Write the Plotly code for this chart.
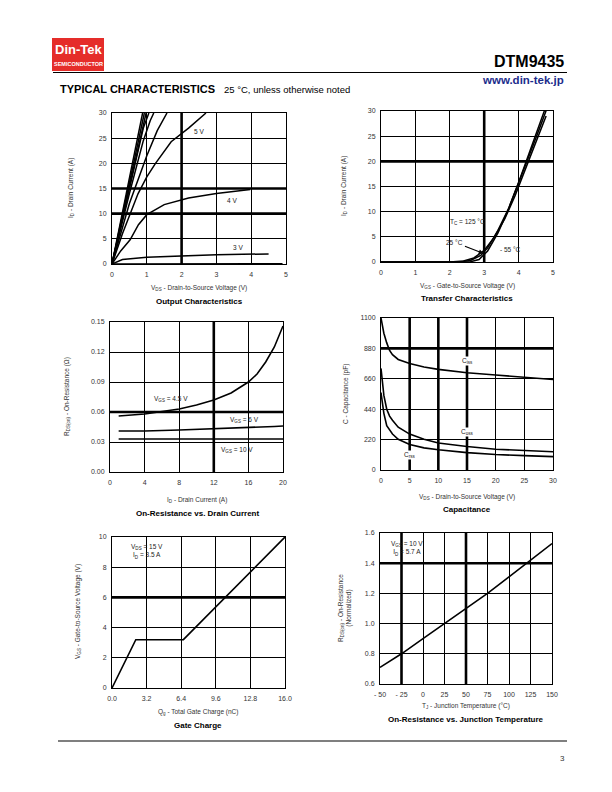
import plotly.graph_objects as go

# ---- Output Characteristics ----
vds_10v = [0, 0.88]
id_10v = [0, 30]
vds_9v = [0, 0.93]
id_9v = [0, 30]
vds_8v = [0, 0.98]
id_8v = [0, 30]
vds_7v = [0, 0.5, 0.9, 1.06]
id_7v = [0, 15, 27, 30]
vds_6v = [0, 0.5, 0.9, 1.1, 1.2]
id_6v = [0, 14, 24.5, 28.5, 30]
vds_55v = [0, 0.5, 1.0, 1.3, 1.58]
id_55v = [0, 12, 21.5, 26.5, 30]
vds_5v = [0, 0.3, 0.75, 1.0, 1.25, 1.7, 2.2, 2.7]
id_5v = [0, 6, 14, 17.3, 20, 24.3, 27, 30]
vds_4v = [0, 0.25, 0.52, 0.76, 1.0, 1.5, 2.2, 3.0, 3.97]
id_4v = [0, 2.6, 4.8, 7.8, 9.8, 11.8, 13.1, 14, 14.8]
vds_3v = [0, 0.3, 1.0, 2.0, 3.0, 4.5]
id_3v = [0, 0.9, 1.35, 1.65, 1.85, 2.0]
vds_2v = [0, 4.9]
id_2v = [0, 0.05]

# ---- Transfer Characteristics ----
vgs_125 = [0, 2.0, 2.4, 2.7, 3.0, 3.3, 3.6, 3.9, 4.2, 4.5, 4.8]
id_125 = [0, 0.02, 0.2, 0.8, 2.3, 5.0, 8.6, 13.2, 18.5, 23.8, 29.0]
vgs_25 = [0, 2.3, 2.6, 2.9, 3.1, 3.4, 3.7, 4.0, 4.3, 4.6, 4.85]
id_25 = [0, 0.05, 0.3, 1.3, 2.8, 6.3, 10.5, 15.6, 21.0, 26.4, 31.0]
vgs_m55 = [0, 2.6, 2.85, 3.1, 3.4, 3.7, 4.0, 4.3, 4.6, 4.8]
id_m55 = [0, 0.05, 0.5, 2.2, 5.8, 10.4, 15.8, 21.6, 27.3, 31.0]

# ---- On-Resistance vs Drain Current ----
id_r = [1, 4, 8, 10, 12, 14, 16, 17, 18, 19, 20]
rds_45v = [0.056, 0.058, 0.063, 0.067, 0.072, 0.079, 0.090, 0.098, 0.110, 0.125, 0.146]
rds_6v = [0.041, 0.041, 0.042, 0.0425, 0.043, 0.0435, 0.044, 0.0445, 0.045, 0.0455, 0.046]
rds_10v = [0.033, 0.033, 0.033, 0.033, 0.033, 0.033, 0.033, 0.033, 0.033, 0.033, 0.033]

# ---- Capacitance ----
vds_c = [0, 0.5, 1, 1.5, 2, 3, 5, 7.5, 10, 15, 20, 25, 30]
ciss = [1100, 990, 920, 865, 835, 800, 770, 745, 728, 704, 687, 670, 655]
coss = [735, 540, 440, 390, 360, 310, 260, 222, 196, 170, 150, 140, 132]
crss = [560, 410, 320, 285, 260, 222, 185, 160, 146, 126, 112, 104, 97]

# ---- Gate Charge ----
qg = [0, 2.2, 6.6, 16.0]
vgs_q = [0, 3.2, 3.2, 10.0]

# ---- On-Resistance vs Junction Temperature ----
tj = [-50, -25, 0, 25, 50, 75, 100, 125, 150]
rds_norm = [0.71, 0.80, 0.90, 1.00, 1.10, 1.20, 1.31, 1.42, 1.53]

W, H = 612, 792
OFF = 8  # page body margin in the browser


def px(x):
    return (x - OFF) / W


def py(y):
    return 1 - (y - OFF) / H


fig = go.Figure()


def add(x, y, n, w=1.6):
    fig.add_trace(go.Scatter(x=x, y=y, mode="lines", line=dict(color="black", width=w),
                             xaxis="x" + n, yaxis="y" + n, showlegend=False, hoverinfo="skip"))


for xs, ys in [(vds_10v, id_10v), (vds_9v, id_9v), (vds_8v, id_8v), (vds_7v, id_7v),
               (vds_6v, id_6v), (vds_55v, id_55v), (vds_5v, id_5v), (vds_4v, id_4v),
               (vds_3v, id_3v), (vds_2v, id_2v)]:
    add(xs, ys, "", 1.5)
for xs, ys in [(vgs_125, id_125), (vgs_25, id_25), (vgs_m55, id_m55)]:
    add(xs, ys, "2", 1.5)
for ys in [rds_45v, rds_6v, rds_10v]:
    add(id_r, ys, "3")
for ys in [ciss, coss, crss]:
    add(vds_c, ys, "4")
add(qg, vgs_q, "5")
add(tj, rds_norm, "6")

tickfont = dict(family="Liberation Sans, Arial", size=7, color="#333")


def axes(n, xdom, ydom, xr, yr, xt, yt, xtt=None, ytt=None):
    key = "" if n == 1 else str(n)
    xa = dict(domain=[px(xdom[0]), px(xdom[1])], range=xr, tickvals=xt, ticktext=xtt,
              anchor="y" + key, showgrid=True, gridcolor="black", gridwidth=1,
              showline=True, linecolor="black", linewidth=1, mirror=True, zeroline=False,
              ticks="outside", ticklen=4, tickcolor="rgba(0,0,0,0)", tickfont=tickfont,
              fixedrange=True, automargin=False)
    ya = dict(domain=[py(ydom[1]), py(ydom[0])], range=yr, tickvals=yt, ticktext=ytt,
              anchor="x" + key, showgrid=True, gridcolor="black", gridwidth=1,
              showline=True, linecolor="black", linewidth=1, mirror=True, zeroline=False,
              ticks="outside", ticklen=3, tickcolor="rgba(0,0,0,0)", tickfont=tickfont,
              fixedrange=True, automargin=False)
    fig.layout["xaxis" + key] = xa
    fig.layout["yaxis" + key] = ya


axes(1, (112, 286), (113, 264), [0, 5], [0, 30], [0, 1, 2, 3, 4, 5], [0, 5, 10, 15, 20, 25, 30])
axes(2, (381, 553), (111, 262), [0, 5], [0, 30], [0, 1, 2, 3, 4, 5], [0, 5, 10, 15, 20, 25, 30])
axes(3, (110, 283), (322, 472), [0, 20], [0, 0.15], [0, 4, 8, 12, 16, 20],
     [0, 0.03, 0.06, 0.09, 0.12, 0.15], None, ["0.00", "0.03", "0.06", "0.09", "0.12", "0.15"])
axes(4, (381, 553), (318, 470), [0, 30], [0, 1100], [0, 5, 10, 15, 20, 25, 30],
     [0, 220, 440, 660, 880, 1100])
axes(5, (112, 285), (537, 688), [0, 16], [0, 10], [0, 3.2, 6.4, 9.6, 12.8, 16.0],
     [0, 2, 4, 6, 8, 10], ["0.0", "3.2", "6.4", "9.6", "12.8", "16.0"])
axes(6, (380, 552), (533, 684), [-50, 150], [0.6, 1.6], [-50, -25, 0, 25, 50, 75, 100, 125, 150],
     [0.6, 0.8, 1.0, 1.2, 1.4, 1.6], ["- 50", "- 25", "0", "25", "50", "75", "100", "125", "150"],
     ["0.6", "0.8", "1.0", "1.2", "1.4", "1.6"])

shapes = []


def thick_v(n, x):
    shapes.append(dict(type="line", xref="x" + n, yref="y" + n + " domain", x0=x, x1=x, y0=0, y1=1,
                       line=dict(color="black", width=2.6), layer="below"))


def thick_h(n, y):
    shapes.append(dict(type="line", yref="y" + n, xref="x" + n + " domain", y0=y, y1=y, x0=0, x1=1,
                       line=dict(color="black", width=2.6), layer="below"))


thick_v("", 2)
thick_h("", 10)
thick_h("", 15)
thick_v("2", 3)
thick_h("2", 20)
thick_v("3", 12)
thick_h("3", 0.06)
for v in [5, 10, 15]:
    thick_v("4", v)
thick_h("4", 880)
thick_h("5", 6)
thick_v("6", -25)
thick_v("6", 50)
thick_h("6", 1.4)

# header / footer
shapes.append(dict(type="rect", xref="paper", yref="paper", x0=px(52), x1=px(104), y0=py(71), y1=py(38),
                   fillcolor="#e52d2a", line=dict(width=0)))
shapes.append(dict(type="line", xref="paper", yref="paper", x0=px(53), x1=px(567), y0=py(72.5), y1=py(72.5),
                   line=dict(color="black", width=1.2)))
shapes.append(dict(type="line", xref="paper", yref="paper", x0=px(58), x1=px(567), y0=py(741), y1=py(741),
                   line=dict(color="black", width=1.2)))
fig.update_layout(shapes=shapes)

ann = []
F = "Liberation Sans, Arial"


def text(x, y, t, size=7, color="#333", bold=False, xanchor="center", angle=0, bg=None):
    a = dict(xref="paper", yref="paper", x=px(x), y=py(y), text=("<b>%s</b>" % t) if bold else t,
             showarrow=False, xanchor=xanchor, yanchor="middle", textangle=angle,
             font=dict(family=F, size=size, color=color))
    if bg:
        a["bgcolor"] = bg
    ann.append(a)


def dtext(n, x, y, t, xanchor="center", bg=None, size=7):
    a = dict(xref="x" + n, yref="y" + n, x=x, y=y, text=t, showarrow=False, xanchor=xanchor,
             yanchor="middle", font=dict(family=F, size=size, color="#222"))
    if bg:
        a["bgcolor"] = bg
        a["borderpad"] = 0
    ann.append(a)


text(78, 50, "Din-Tek", 13, "white", True)
text(78, 64, "SEMICONDUCTOR", 5.5, "white", True)
text(566, 61, "DTM9435", 16, "black", True, "right")
text(566, 80, "www.din-tek.jp", 11.5, "#1c2c8c", True, "right")
text(58, 89, "TYPICAL CHARACTERISTICS", 11, "black", True, "left")
text(222, 89, "25 °C, unless otherwise noted", 9.5, "black", False, "left")
text(562, 758, "3", 8, "#333")

# plot 1
text(199, 288, "V<sub>DS</sub> - Drain-to-Source Voltage (V)", 6.5)
text(199, 301, "Output Characteristics", 8, "black", True)
text(71, 188, "I<sub>D</sub> - Drain Current (A)", 6.5, angle=-90)
dtext("", -0.05, 27.8, "V<sub>GS</sub> = 10 V thru 6 V", bg="white", size=6.5)
dtext("", 2.5, 26.4, "5 V", size=6.5)
dtext("", 3.45, 12.7, "4 V", size=6.5)
dtext("", 3.62, 3.2, "3 V", size=6.5)

# plot 2
text(467, 286, "V<sub>GS</sub> - Gate-to-Source Voltage (V)", 6.5)
text(467, 298, "Transfer Characteristics", 8, "black", True)
text(344, 186, "I<sub>D</sub> - Drain Current (A)", 6.5, angle=-90)
dtext("2", 2.5, 8.0, "T<sub>C</sub> = 125 °C", size=6.5)
dtext("2", 3.75, 2.4, "- 55 °C", size=6.5)
ann.append(dict(xref="x2", yref="y2", x=2.98, y=1.7, axref="x2", ayref="y2", ax=2.15, ay=3.9,
                text="25 °C", showarrow=True, arrowhead=2, arrowsize=0.8, arrowwidth=1.2,
                arrowcolor="black", font=dict(family=F, size=6.5, color="#222")))

# plot 3
text(197, 500, "I<sub>D</sub> - Drain Current (A)", 6.5)
text(197, 513, "On-Resistance vs. Drain Current", 8, "black", True)
text(67, 397, "R<sub>DS(on)</sub> - On-Resistance (Ω)", 6.5, angle=-90)
dtext("3", 7.0, 0.073, "V<sub>GS</sub> = 4.5 V", size=6.5)
dtext("3", 15.6, 0.052, "V<sub>GS</sub> = 6 V", size=6.5)
dtext("3", 14.7, 0.022, "V<sub>GS</sub> = 10 V", size=6.5)

# plot 4
text(467, 497, "V<sub>DS</sub> - Drain-to-Source Voltage (V)", 6.5)
text(467, 509, "Capacitance", 8, "black", True)
text(346, 394, "C - Capacitance (pF)", 6.5, angle=-90)
dtext("4", 15, 790, "C<sub>iss</sub>", bg="white", size=6.5)
dtext("4", 15, 275, "C<sub>oss</sub>", bg="white", size=6.5)
dtext("4", 5, 110, "C<sub>rss</sub>", bg="white", size=6.5)

# plot 5
text(198, 712, "Q<sub>g</sub> - Total Gate Charge (nC)", 6.5)
text(198, 725, "Gate Charge", 8, "black", True)
text(78, 612, "V<sub>GS</sub> - Gate-to-Source Voltage (V)", 6.5, angle=-90)
dtext("5", 1.6, 9.05, "V<sub>DS</sub> = 15 V<br>I<sub>D</sub> = 3.5 A", xanchor="left", size=6.5)

# plot 6
text(466, 706, "T<sub>J</sub> - Junction Temperature (°C)", 6.5)
text(466, 719, "On-Resistance vs. Junction Temperature", 8, "black", True)
text(345, 608, "R<sub>DS(on)</sub> - On-Resistance<br>(Normalized)", 6.5, angle=-90)
dtext("6", -40, 1.5, "V<sub>GS</sub> = 10 V<br>I<sub>D</sub> = 5.7 A", xanchor="left", size=6.5)

fig.update_layout(annotations=ann, width=W, height=H,
                  margin=dict(l=0, r=0, t=0, b=0, pad=0, autoexpand=False),
                  paper_bgcolor="white", plot_bgcolor="white", showlegend=False)

fig.write_html("out.html")
